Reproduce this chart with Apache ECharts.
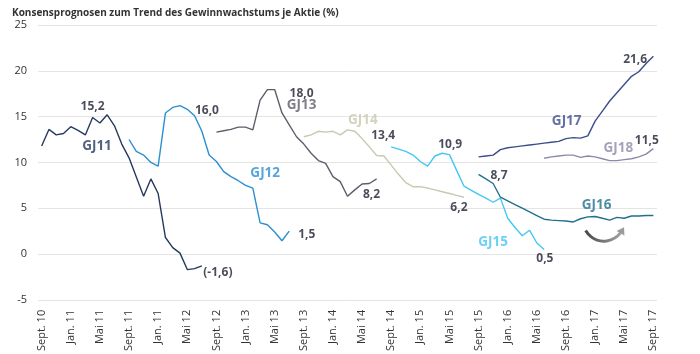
<!DOCTYPE html>
<html>
<head>
<meta charset="utf-8">
<script src="https://cdn.jsdelivr.net/npm/echarts@6/dist/echarts.min.js"></script>
<style>html,body{margin:0;padding:0;background:#fff}#c{width:700px;height:354px}</style>
</head>
<body>
<div id="c"></div>
<script>
// ---- tick labels (every 4th month) ----
const tickLabels = ["Sept. 10","Jan. 11","Mai 11","Sept. 11","Jan. 11","Mai 12","Sept. 12","Jan. 13","Mai 13","Sept. 13","Jan. 14","Mai 14","Sept. 14","Jan. 15","Mai 15","Sept. 15","Jan. 16","Mai 16","Sept. 16","Jan. 17","Mai 17","Sept. 17"];
// ---- monthly categories Sept 2010 .. Sept 2017 ----
const monthNames = ["Jan.","Feb.","März","Apr.","Mai","Juni","Juli","Aug.","Sept.","Okt.","Nov.","Dez."];
const categories = [];
for (let k = 0; k < 85; k++) { const m = (8 + k) % 12, y = 10 + Math.floor((8 + k) / 12); categories.push(monthNames[m] + " " + y); }

// ---- series values (start index in categories + monthly values) ----
const gj11Start = 0;
const gj11 = [11.8,13.6,13.0,13.15,13.9,13.5,13.0,14.9,14.3,15.2,14.0,12.0,10.5,8.4,6.3,8.2,6.6,1.8,0.7,0.1,-1.7,-1.6,-1.3];
const gj12Start = 12;
const gj12 = [12.5,11.2,10.8,10.0,9.6,15.4,16.0,16.2,15.8,15.1,13.4,10.8,10.1,9.0,8.45,8.0,7.5,7.2,3.4,3.2,2.4,1.45,2.5];
const gj13Start = 24;
const gj13 = [13.3,13.45,13.6,13.85,13.85,13.55,16.8,17.95,17.95,15.4,14.1,12.8,12.0,11.0,10.2,9.9,8.45,7.9,6.3,7.0,7.65,7.7,8.2];
const gj14Start = 36;
const gj14 = [12.8,13.0,13.4,13.3,13.4,13.0,13.55,13.4,12.6,11.7,10.75,10.7,9.7,8.7,7.8,7.35,7.35,7.2,7.0,6.8,6.6,6.4,6.2];
const gj15Start = 48;
const gj15 = [11.7,11.45,11.2,10.8,10.1,9.6,10.7,11.0,10.85,9.1,7.4,6.95,6.5,6.1,5.65,6.1,3.9,2.9,2.0,2.6,1.2,0.5];
const gj16Start = 60;
const gj16 = [8.7,8.2,7.7,6.2,5.8,5.4,5.0,4.6,4.2,3.8,3.7,3.65,3.6,3.5,3.85,4.05,4.1,3.9,3.7,4.0,3.9,4.15,4.15,4.2,4.2];
const gj17Start = 60;
const gj17 = [10.6,10.7,10.8,11.4,11.6,11.7,11.8,11.9,12.0,12.1,12.2,12.3,12.6,12.7,12.65,12.9,14.5,15.6,16.7,17.6,18.5,19.4,19.9,20.8,21.6];
const gj18Start = 69;
const gj18 = [10.45,10.6,10.7,10.8,10.8,10.55,10.7,10.6,10.4,10.2,10.2,10.3,10.4,10.6,10.9,11.5];

// ---- annotation texts with anchor [month index, value] ----
const annoNames = ["15,2","GJ11","16,0","(-1,6)","GJ12","1,5","18,0","GJ13","GJ14","13,4","8,2","10,9","6,2","8,7","GJ15","0,5","GJ16","4,2","GJ17","GJ18","11,5","21,6"];
const annoX     = [7.0, 7.6, 22.7, 24.2, 30.7, 36.4, 35.7, 35.7, 44.1, 46.9, 45.3, 56.1, 57.3, 62.8, 62.0, 69.1, 76.2, 85.2, 72.1, 79.2, 83.1, 81.5];
const annoY     = [16.1, 11.75, 15.66, -2.04, 8.82, 2.08, 17.56, 16.23, 14.59, 12.95, 6.45, 11.91, 5.03, 8.58, 1.34, -0.47, 5.36, 4.62, 14.53, 11.55, 12.38, 21.2];
const annoKind  = ["n","GJ11","n","n","GJ12","n","n","GJ13","GJ14","n","n","n","n","n","GJ15","n","GJ16","n","GJ17","GJ18","n","n"];

const colors = {GJ11:"#263a60",GJ12:"#2b8fd1",GJ13:"#5e5e6b",GJ14:"#c9c8b0",GJ15:"#45c6f4",GJ16:"#22708f",GJ17:"#3c4c8c",GJ18:"#8d89aa"};

function pad(start, vals) {
  const out = new Array(categories.length).fill(null);
  vals.forEach((v, k) => { out[start + k] = v; });
  return out;
}
const seriesDefs = [
  ["GJ11", gj11Start, gj11], ["GJ12", gj12Start, gj12], ["GJ13", gj13Start, gj13], ["GJ14", gj14Start, gj14],
  ["GJ15", gj15Start, gj15], ["GJ16", gj16Start, gj16], ["GJ17", gj17Start, gj17], ["GJ18", gj18Start, gj18]
];

const chart = echarts.init(document.getElementById('c'), null, {renderer: 'canvas'});
const FONT = "'Open Sans', 'Noto Sans', sans-serif";

const series = seriesDefs.map(([name, s, v]) => ({
  name, type: 'line', data: pad(s, v), showSymbol: false, symbol: 'none',
  connectNulls: false, lineStyle: {width: 1.4, color: colors[name]}, itemStyle: {color: colors[name]},
  z: 3, animation: false
}));
series.push({
  type: 'scatter', xAxisIndex: 1, symbolSize: 0, animation: false, silent: true, z: 5,
  data: annoNames.map((t, k) => ({
    value: [annoX[k], annoY[k]],
    label: {
      show: true, position: 'inside', formatter: t,
      fontFamily: FONT, fontWeight: 'bold',
      fontSize: annoKind[k] === 'n' ? 12 : 13.5,
      color: annoKind[k] === 'n' ? '#1b1e2e' : colors[annoKind[k]]
    }
  }))
});

chart.setOption({
  animation: false,
  title: {
    text: 'Konsensprognosen zum Trend des Gewinnwachstums je Aktie (%)',
    left: 7, top: 3,
    textStyle: {fontFamily: FONT, fontSize: 10, fontWeight: 'bold', color: '#333'}
  },
  grid: {left: 38, right: 43, top: 25, bottom: 54},
  xAxis: [{
    type: 'category', data: categories, boundaryGap: true,
    axisLine: {show: false}, axisTick: {show: false}, splitLine: {show: false},
    axisLabel: {
      interval: 3, rotate: 90, margin: 10, fontFamily: FONT, fontSize: 11, color: '#333',
      formatter: (val, idx) => tickLabels[idx / 4]
    }
  }, {
    type: 'value', min: -0.5, max: 84.5, show: false
  }],
  yAxis: {
    type: 'value', min: -5, max: 25, interval: 5,
    axisLine: {show: false}, axisTick: {show: false},
    splitLine: {lineStyle: {color: '#e4e4e4', width: 1}},
    axisLabel: {margin: 11, fontFamily: FONT, fontSize: 11, color: '#333'}
  },
  series
});

// curved arrow (decorative), placed in data space
const c = chart.convertToPixel({xAxisIndex: 1, yAxisIndex: 0}, [77.2, 3.7]);
const r = 21;
const a1 = Math.PI / 6, a2 = Math.PI * 5 / 6;
const ex = c[0] + r * Math.cos(a1), ey = c[1] + r * Math.sin(a1);
const dx = Math.sin(a1), dy = -Math.cos(a1);
const px = -dy, py = dx;
chart.setOption({
  graphic: [{
    type: 'arc', silent: true,
    shape: {cx: c[0], cy: c[1], r: r, startAngle: a1 + 0.12, endAngle: a2, clockwise: true},
    style: {
      fill: null, lineWidth: 3,
      stroke: new echarts.graphic.LinearGradient(1, 0, 0, 0, [{offset: 0, color: '#a8a8a8'}, {offset: 1, color: '#444'}])
    }
  }, {
    type: 'polygon', silent: true,
    shape: {points: [[ex + dx * 4, ey + dy * 4], [ex - dx * 3 + px * 4.5, ey - dy * 3 + py * 4.5], [ex - dx * 3 - px * 4.5, ey - dy * 3 - py * 4.5]]},
    style: {fill: '#9a9a9a'}
  }]
});
</script>
</body>
</html>
